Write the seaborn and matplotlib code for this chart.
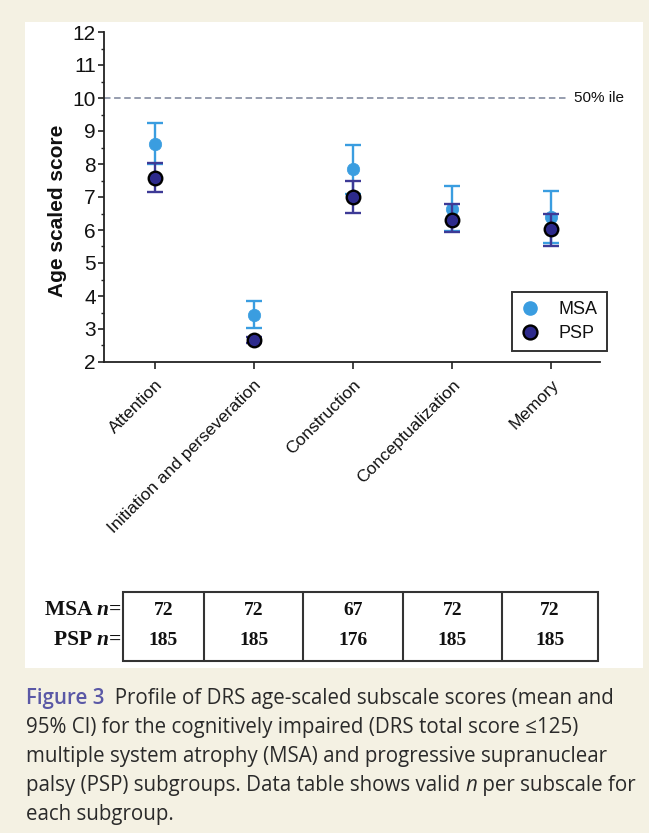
import numpy as np
import pandas as pd
import matplotlib
matplotlib.use("Agg")
import matplotlib.pyplot as plt
import seaborn as sns
from matplotlib.lines import Line2D
from matplotlib.patches import Rectangle
from matplotlib.offsetbox import TextArea, HPacker, AnnotationBbox

# --- Data --------------------------------------------------------------------
SUBSCALES = ["Attention", "Initiation and perseveration", "Construction",
             "Conceptualization", "Memory"]
MSA_MEAN = [8.62, 3.43, 7.84, 6.65, 6.40]
MSA_LO   = [8.01, 3.04, 7.10, 5.98, 5.62]
MSA_HI   = [9.23, 3.85, 8.58, 7.33, 7.18]
PSP_MEAN = [7.58, 2.67, 7.00, 6.30, 6.02]
PSP_LO   = [7.15, 2.58, 6.52, 5.93, 5.52]
PSP_HI   = [8.02, 2.76, 7.48, 6.78, 6.50]
MSA_N = [72, 72, 67, 72, 72]
PSP_N = [185, 185, 176, 185, 185]
PERCENTILE_50 = 10

# --- Style -------------------------------------------------------------------
W, H = 649, 833
BEIGE     = "#f4f1e3"
MSA_COLOR = "#3a9de0"
PSP_FILL  = "#2d2a8c"
PSP_ERR   = "#3d3a96"
DASH_GREY = "#8d95a8"
ARIAL = ["Liberation Sans", "DejaVu Sans"]
SERIF = ["Liberation Serif", "DejaVu Serif"]
CAPTION = ["Open Sans", "DejaVu Sans"]

sns.set_style("ticks")
plt.rcParams["font.family"] = ARIAL

df = pd.concat([
    pd.DataFrame({"subscale": SUBSCALES, "mean": MSA_MEAN, "lo": MSA_LO,
                  "hi": MSA_HI, "group": "MSA"}),
    pd.DataFrame({"subscale": SUBSCALES, "mean": PSP_MEAN, "lo": PSP_LO,
                  "hi": PSP_HI, "group": "PSP"}),
], ignore_index=True)

fig = plt.figure(figsize=(W / 100, H / 100), dpi=100, facecolor=BEIGE)
# white panel behind chart + table
fig.patches.append(Rectangle((25 / W, 1 - 668 / H), (643 - 25) / W, (668 - 22) / H,
                             transform=fig.transFigure, facecolor="white",
                             edgecolor="none", zorder=-5))

ax = fig.add_axes([104 / W, 1 - 362 / H, 496 / W, 330 / H])
ax.set_facecolor("none")
xpos = np.arange(len(SUBSCALES))

# --- Error bars + means ------------------------------------------------------
msa = df[df.group == "MSA"]
psp = df[df.group == "PSP"]
ax.errorbar(xpos, msa["mean"], yerr=[msa["mean"] - msa["lo"], msa["hi"] - msa["mean"]],
            fmt="none", ecolor=MSA_COLOR, elinewidth=1.7, capsize=5.8, capthick=1.7, zorder=2)
sns.scatterplot(data=msa, x="subscale", y="mean", color=MSA_COLOR, s=80,
                edgecolor=MSA_COLOR, linewidth=0.5, ax=ax, zorder=3, legend=False)
ax.errorbar(xpos, psp["mean"], yerr=[psp["mean"] - psp["lo"], psp["hi"] - psp["mean"]],
            fmt="none", ecolor=PSP_ERR, elinewidth=1.7, capsize=5.8, capthick=1.7, zorder=4)
sns.scatterplot(data=psp, x="subscale", y="mean", color=PSP_FILL, s=95,
                edgecolor="black", linewidth=1.7, ax=ax, zorder=5, legend=False)

# 50th percentile reference
ax.hlines(PERCENTILE_50, -0.51, 4.18, colors=DASH_GREY, linestyles=(0, (3.6, 2.0)),
          linewidth=1.3, zorder=1)
ax.text(4.23, PERCENTILE_50, "50% ile", fontsize=11, va="center", ha="left",
        clip_on=False, color="#111")

# --- Axes --------------------------------------------------------------------
ax.set_xlim(-0.51, 4.49)
ax.set_ylim(2, 12)
ax.set_yticks(range(2, 13))
ax.set_yticks(np.arange(2.5, 12, 1), minor=True)
ax.set_xticks(xpos)
ax.set_xticklabels(SUBSCALES, rotation=45, ha="right", va="top",
                   rotation_mode="anchor", fontsize=12.5, color="#111")
ax.tick_params(axis="y", labelsize=15, length=4, width=1.2, pad=2, color="#222",
               labelcolor="#111")
ax.tick_params(axis="y", which="minor", length=2.5, width=1.0, color="#222")
ax.tick_params(axis="x", length=5, width=1.2, pad=6, color="#222")
ax.set_xlabel("")
ax.set_ylabel("Age scaled score", fontsize=15, fontweight="bold", color="#111")
ax.yaxis.set_label_coords(-0.075, 0.458)
sns.despine(ax=ax)
for side in ("left", "bottom"):
    ax.spines[side].set_linewidth(1.3)
    ax.spines[side].set_color("#222")

handles = [
    Line2D([], [], linestyle="none", marker="o", markersize=9.5, color=MSA_COLOR,
           markeredgecolor=MSA_COLOR),
    Line2D([], [], linestyle="none", marker="o", markersize=10, color=PSP_FILL,
           markeredgecolor="black", markeredgewidth=1.7),
]
leg = ax.legend(handles, ["MSA", "PSP"], loc="upper left",
                bbox_to_anchor=(0.8226, 0.212), borderaxespad=0, fontsize=13,
                frameon=True, fancybox=False, edgecolor="black", handletextpad=1.1,
                handlelength=1.0, borderpad=0.5, labelspacing=0.4)
leg.get_frame().set_linewidth(1.4)
for t in leg.get_texts():
    t.set_color("#111")

# --- Table of n --------------------------------------------------------------
tab = fig.add_axes([104 / W, 1 - 661 / H, 496 / W, 69 / H])
tab.set_xlim(ax.get_xlim())
tab.set_ylim(0, 2)
tab.axis("off")
borders = [-0.32] + [i + 0.5 for i in xpos[:-1]] + [4.47]
tab.add_patch(Rectangle((borders[0], 0), borders[-1] - borders[0], 2, fill=False,
                        edgecolor="#333", linewidth=1.5, clip_on=False))
for b in borders[1:-1]:
    tab.plot([b, b], [0, 2], color="#333", linewidth=1.5, clip_on=False)
for i in xpos:
    cx = (borders[i] + borders[i + 1]) / 2
    tab.text(cx, 1.45, str(MSA_N[i]), ha="center", va="center", fontsize=14,
             fontweight="bold", family=SERIF, color="#111")
    tab.text(cx, 0.6, str(PSP_N[i]), ha="center", va="center", fontsize=14,
             fontweight="bold", family=SERIF, color="#111")


def packed(pieces):
    areas = [TextArea(t, textprops=p) for t, p in pieces]
    return HPacker(children=areas, align="baseline", pad=0, sep=0)


row_font = dict(fontsize=15.5, fontweight="bold", family=SERIF, color="#111")
row_ital = dict(row_font, fontstyle="italic")
for label, ypx in (("MSA", 610), ("PSP", 640)):
    box = packed([(label + " ", row_font), ("n", row_ital), ("=", row_font)])
    fig.add_artist(AnnotationBbox(box, (121, H - ypx), xycoords="figure pixels",
                                  box_alignment=(1, 0.5), frameon=False, pad=0))

# --- Caption -----------------------------------------------------------------
cap = dict(fontsize=14.8, family=CAPTION, color="#2a2a2a")
cap_bold = dict(cap, fontweight="semibold", color="#5a58a6")
cap_ital = dict(cap, fontstyle="italic")
caption_lines = [
    [("Figure 3", cap_bold), ("  Profile of DRS age-scaled subscale scores (mean and", cap)],
    [("95% CI) for the cognitively impaired (DRS total score \u2264125)", cap)],
    [("multiple system atrophy (MSA) and progressive supranuclear", cap)],
    [("palsy (PSP) subgroups. Data table shows valid ", cap), ("n", cap_ital),
     (" per subscale for", cap)],
    [("each subgroup.", cap)],
]
for k, pieces in enumerate(caption_lines):
    base = 704 + 29 * k
    fig.add_artist(AnnotationBbox(packed(pieces), (26, H - base - 5),
                                  xycoords="figure pixels", box_alignment=(0, 0),
                                  frameon=False, pad=0))

fig.savefig("out.png", dpi=100, facecolor=BEIGE)
